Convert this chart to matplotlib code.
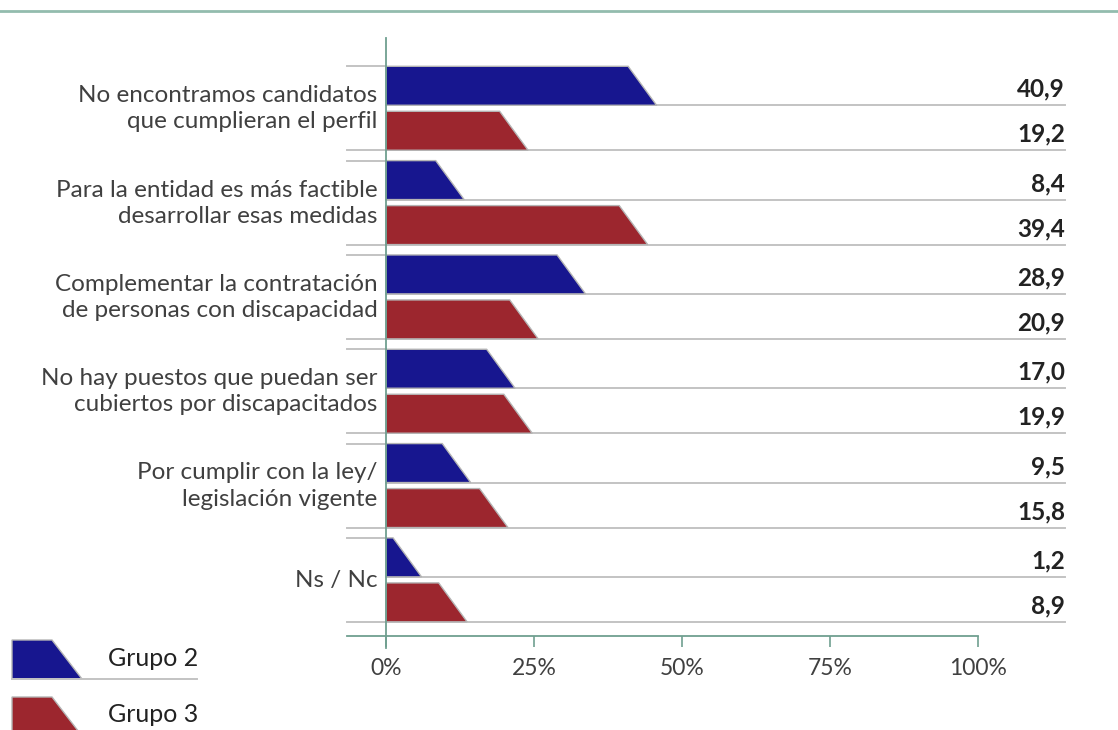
import matplotlib.pyplot as plt
from matplotlib.patches import Polygon
from matplotlib.lines import Line2D

plt.rcParams["font.family"] = ["Lato", "DejaVu Sans"]

categorias = [
    "No encontramos candidatos\nque cumplieran el perfil",
    "Para la entidad es más factible\ndesarrollar esas medidas",
    "Complementar la contratación\nde personas con discapacidad",
    "No hay puestos que puedan ser\ncubiertos por discapacitados",
    "Por cumplir con la ley/\nlegislación vigente",
    "Ns / Nc",
]
grupo2 = [40.9, 8.4, 28.9, 17.0, 9.5, 1.2]
grupo3 = [19.2, 39.4, 20.9, 19.9, 15.8, 8.9]
series = ["Grupo 2", "Grupo 3"]
ticks = [0, 25, 50, 75, 100]
tick_labels = ["0%", "25%", "50%", "75%", "100%"]

azul = "#17168f"
rojo = "#9c262e"
gris = "#c3c3c3"
verde = "#6f9f90"
texto = "#404040"

W, H = 1118, 730
fig = plt.figure(figsize=(W / 100, H / 100), dpi=100)

# ejes: 0% en x=386px, 100% en x=978px; una unidad en y = un grupo
ax = fig.add_axes([386 / W, (H - 636) / H, (978 - 386) / W, (636 - 38) / H])
ax.set_xlim(0, 100)
ax.set_ylim(6.04, -0.30)
for s in ax.spines.values():
    s.set_visible(False)
ax.set_yticks([])
ax.set_xticks(ticks)
ax.set_xticklabels(tick_labels, fontsize=16.5, color=texto)
ax.tick_params(axis="x", direction="out", length=8, width=1.2, color=verde, pad=8)

alto = 0.413      # alto de cada barra
sep = 0.477       # desplazamiento de la segunda barra
bisel = 4.8       # corte inclinado del extremo
izq = -6.6        # inicio de las líneas cortas a la izquierda
der = 114.7       # final de las líneas grises

def barra(y0, v, color):
    y1 = y0 + alto
    p = Polygon([(0, y0), (v, y0), (v + bisel, y1), (0, y1)], closed=True,
                facecolor=color, edgecolor="#b5b5b5", linewidth=1.0,
                joinstyle="miter", clip_on=False, zorder=3)
    ax.add_patch(p)
    return y1

for i, (cat, a, b) in enumerate(zip(categorias, grupo2, grupo3)):
    y = float(i)
    ax.plot([izq, 0], [y, y], color=gris, lw=1.4, clip_on=False, zorder=2)
    yb = barra(y, a, azul)
    ax.plot([0, der], [yb, yb], color=gris, lw=1.4, clip_on=False, zorder=2)
    ax.text(der, yb - 0.09, f"{a:.1f}".replace(".", ","), ha="right", va="baseline",
            fontsize=17.5, fontweight="bold", color="#222222", clip_on=False)
    yr = barra(y + sep, b, rojo)
    ax.plot([izq, der], [yr, yr], color=gris, lw=1.4, clip_on=False, zorder=2)
    ax.text(der, yr - 0.09, f"{b:.1f}".replace(".", ","), ha="right", va="baseline",
            fontsize=17.5, fontweight="bold", color="#222222", clip_on=False)
    ax.text(-1.4, y + 0.45, cat, ha="right", va="center", multialignment="right",
            fontsize=17.5, color=texto, linespacing=1.3)

# ejes dibujados a mano
ax.plot([0, 0], [-0.30, 6.17], color=verde, lw=1.3, clip_on=False, zorder=4)
ax.plot([izq, 100], [6.04, 6.04], color=verde, lw=1.3, clip_on=False, zorder=4)

# línea superior
fig.add_artist(Line2D([0, 1], [1 - 11 / H, 1 - 11 / H], color="#93bcae", lw=2))

# leyenda
lg = fig.add_axes([0, 0, 320 / W, 100 / H])
lg.set_xlim(0, 320)
lg.set_ylim(100, 0)
lg.axis("off")
for k, (nombre, color) in enumerate(zip(series, [azul, rojo])):
    t = 10 + 57 * k
    lg.add_patch(Polygon([(12, t), (52, t), (82, t + 39), (12, t + 39)], closed=True,
                         facecolor=color, edgecolor="#b5b5b5", lw=1.0, clip_on=False))
    lg.plot([12, 197], [t + 39, t + 39], color=gris, lw=1.4, clip_on=False)
    lg.text(108, t + 18, nombre, ha="left", va="center", fontsize=18, color="#222222")

fig.savefig("out.png", dpi=100)
